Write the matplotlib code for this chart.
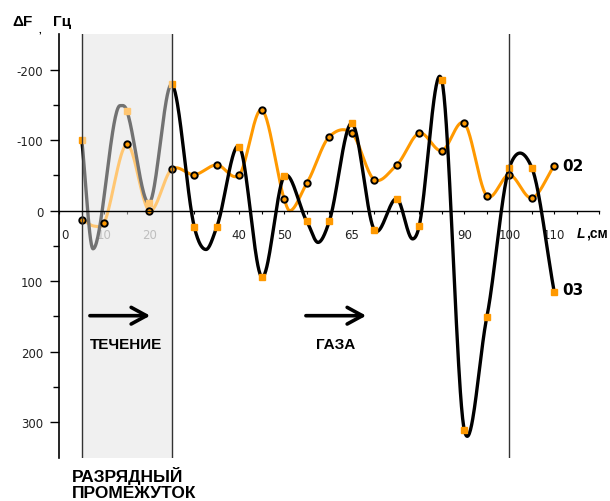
import numpy as np
import matplotlib
matplotlib.use("Agg")
import matplotlib.pyplot as plt

# ---------------- data ----------------
# series 02 : orange line, round black-edged markers
L_02 = [5, 10, 15, 20, 25, 30, 35, 40, 45, 50, 55, 60, 65, 70, 75, 80, 85, 90, 95, 100, 105, 110]
dF_02 = [13, 17, -94, 0, -59, -51, -65, -51, -143, -16, -39, -105, -110, -44, -65, -110, -85, -124, -21, -51, -18, -64]
# unmarked turning points of the 02 curve
L_02_turn = [8, 51.2]
dF_02_turn = [22, 0]

# series 03 : black line, orange square markers
L_03 = [5, 15, 20, 25, 30, 35, 40, 45, 50, 55, 60, 65, 70, 75, 80, 85, 90, 95, 100, 105, 110]
dF_03 = [-100, -142, -11, -179, 23, 23, -91, 94, -49, 15, 15, -124, 27, -17, 21, -185, 311, 151, -61, -61, 116]
# unmarked turning points of the 03 curve
L_03_turn = [7.5, 13.5, 32.6, 57.5, 78.5]
dF_03_turn = [54, -149, 55, 45, 40]

x_tick_pos = [10, 20, 40, 50, 65, 90, 100, 110]
x_tick_lab = ["10", "20", "40", "50", "65", "90", "100", "110"]
y_tick_pos = [-200, -100, 0, 100, 200, 300]
y_tick_lab = ["-200", "-100", "0", "100", "200", "300"]

gap_start, gap_end = 5, 25       # discharge gap
marker_line = 100


def smooth(xm, ym, xt, yt, n=40, tension=0.85):
    """Hermite smoothing through knots (Excel-like); turning knots get zero slope."""
    xk = np.array(list(xm) + list(xt), float)
    yk = np.array(list(ym) + list(yt), float)
    flat = np.array([False] * len(xm) + [True] * len(xt))
    o = np.argsort(xk)
    xk, yk, flat = xk[o], yk[o], flat[o]
    k = len(xk)
    m = np.zeros(k)
    for i in range(k):
        if flat[i]:
            m[i] = 0.0
        elif i == 0:
            m[i] = (yk[1] - yk[0]) / (xk[1] - xk[0])
        elif i == k - 1:
            m[i] = (yk[-1] - yk[-2]) / (xk[-1] - xk[-2])
        else:
            m[i] = tension * (yk[i + 1] - yk[i - 1]) / (xk[i + 1] - xk[i - 1])
    xs, ys = [], []
    for i in range(k - 1):
        h = xk[i + 1] - xk[i]
        t = np.linspace(0, 1, n, endpoint=(i == k - 2))
        h00 = 2 * t**3 - 3 * t**2 + 1
        h10 = t**3 - 2 * t**2 + t
        h01 = -2 * t**3 + 3 * t**2
        h11 = t**3 - t**2
        xs.append(xk[i] + t * h)
        ys.append(h00 * yk[i] + h10 * h * m[i] + h01 * yk[i + 1] + h11 * h * m[i + 1])
    return np.concatenate(xs), np.concatenate(ys)


ORANGE = "#ff9900"

fig = plt.figure(figsize=(6.1, 5.02), dpi=100)
ax = fig.add_axes([59.3 / 610, (502 - 458.5) / 502, 540 / 610, 423.1 / 502])
ax.set_xlim(0, 120)
ax.set_ylim(350, -250)

# shaded discharge gap (background + light veil over the lines)
ax.axvspan(gap_start, gap_end, facecolor="#e4e4e4", lw=0, zorder=0.5)

x2, y2 = smooth(L_02, dF_02, L_02_turn, dF_02_turn)
x3, y3 = smooth(L_03, dF_03, L_03_turn, dF_03_turn)
ax.plot(x2, y2, color=ORANGE, lw=2.2, zorder=2, solid_capstyle="round")
ax.plot(x3, y3, color="black", lw=2.4, zorder=2.2, solid_capstyle="round")
ax.plot(L_03, dF_03, ls="none", marker="s", ms=4.6, mfc=ORANGE, mec=ORANGE, zorder=3)

ax.axvspan(gap_start, gap_end, facecolor="white", alpha=0.45, lw=0, zorder=3.5)

ax.plot(L_02, dF_02, ls="none", marker="o", ms=4.6, mfc=ORANGE, mec="black", mew=1.4, zorder=5)

for xv in (gap_start, gap_end, marker_line):
    ax.axvline(xv, color="#333333", lw=1.0, zorder=6)

# axes styling
for s in ("top", "right"):
    ax.spines[s].set_visible(False)
ax.spines["bottom"].set_position(("data", 0))
ax.spines["bottom"].set_zorder(6)
ax.spines["left"].set_linewidth(1.2)
ax.spines["bottom"].set_linewidth(1.0)

ax.set_xticks(np.arange(0, 121, 5))
ax.set_xticklabels([x_tick_lab[x_tick_pos.index(v)] if v in x_tick_pos else "" for v in range(0, 121, 5)])
ax.tick_params(axis="x", direction="out", length=2.3, width=0.8, pad=10.0,
               labelsize=8.5, labelcolor="#222222")
for lab, v in zip(ax.get_xticklabels(), range(0, 121, 5)):
    if gap_start < v < gap_end:
        lab.set_color("#8a8a8a")
ax.text(1.3, 24.5, "0", ha="center", va="top", fontsize=8.5, color="#222222")

ax.set_yticks(y_tick_pos)
ax.set_yticklabels(y_tick_lab)
ax.set_yticks([-150, -50, 50, 150, 250], minor=True)
ax.tick_params(axis="y", which="major", length=6.5, width=1.0, pad=5.0,
               labelsize=8.5, labelcolor="#222222")
ax.tick_params(axis="y", which="minor", length=4.0, width=1.0)

# series labels
ax.text(111.7, -63.8, "02", ha="left", va="center", fontsize=11,
        fontweight="bold", family="DejaVu Sans")
ax.text(111.7, 112, "03", ha="left", va="center", fontsize=11,
        fontweight="bold", family="DejaVu Sans")

# flow arrows and captions
arrow = dict(arrowstyle="->,head_length=0.55,head_width=0.3", lw=2.6,
             color="black", mutation_scale=20, shrinkA=0, shrinkB=0)
ax.annotate("", xy=(20.2, 148.9), xytext=(6.8, 148.9), arrowprops=arrow, zorder=7)
ax.annotate("", xy=(68.2, 148.9), xytext=(54.8, 148.9), arrowprops=arrow, zorder=7)
ax.text(14.9, 189, "ТЕЧЕНИЕ", ha="center", va="center", fontsize=11,
        fontweight="bold", family="Liberation Sans", zorder=7)
ax.text(61.3, 189.5, "ГАЗА", ha="center", va="center", fontsize=11,
        fontweight="bold", family="Liberation Sans", zorder=7)

# axis titles
fig.text(12.7 / 610, 1 - 22 / 502, "ΔF", ha="left", va="center", fontsize=11,
         fontweight="bold", family="Liberation Sans")
fig.text(38 / 610, 1 - 30 / 502, ",", ha="left", va="center", fontsize=7,
         fontweight="bold", family="Liberation Sans")
fig.text(53 / 610, 1 - 22 / 502, "Гц", ha="left", va="center", fontsize=11,
         fontweight="bold", family="Liberation Sans")
fig.text(577 / 610, 1 - 234 / 502, "L", ha="left", va="center", fontsize=10,
         fontweight="bold", style="italic", family="Liberation Sans")
fig.text(586 / 610, 1 - 234 / 502, ",см", ha="left", va="center", fontsize=10,
         fontweight="bold", family="Liberation Sans")

fig.text(72 / 610, 1 - 476 / 502, "РАЗРЯДНЫЙ", ha="left", va="center", fontsize=12.5,
         fontweight="bold", family="Liberation Sans")
fig.text(72 / 610, 1 - 494 / 502, "ПРОМЕЖУТОК", ha="left", va="center", fontsize=12.5,
         fontweight="bold", family="Liberation Sans")

fig.savefig("out.png", dpi=100)
